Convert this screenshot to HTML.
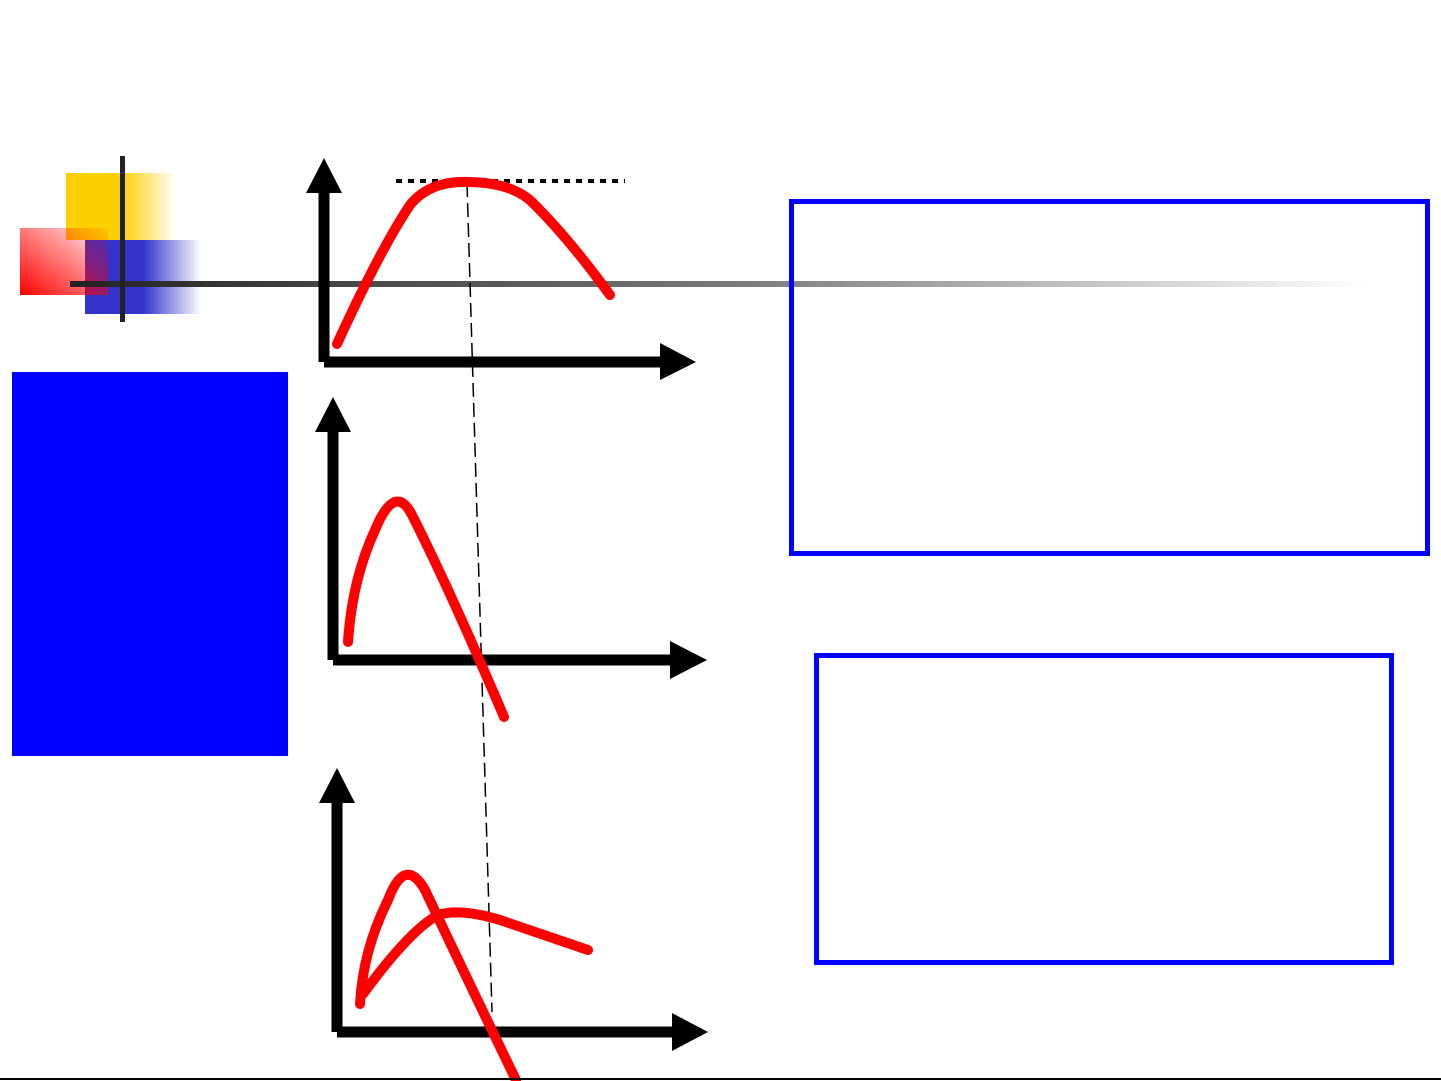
<!DOCTYPE html>
<html><head><meta charset="utf-8"><style>html,body{margin:0;padding:0;background:#fff}svg{display:block}</style></head>
<body>
<svg width="1441" height="1081" viewBox="0 0 1441 1081" xmlns="http://www.w3.org/2000/svg">
<defs>
<linearGradient id="gy" x1="0" x2="1"><stop offset="0" stop-color="#ffd000"/><stop offset="0.5" stop-color="#ffd000"/><stop offset="1" stop-color="#ffd000" stop-opacity="0"/></linearGradient>
<linearGradient id="gb" x1="0" x2="1"><stop offset="0" stop-color="#3333cc"/><stop offset="0.5" stop-color="#3333cc"/><stop offset="1" stop-color="#3333cc" stop-opacity="0"/></linearGradient>
<linearGradient id="gr" x1="0" y1="1" x2="1" y2="0"><stop offset="0" stop-color="#ff0000"/><stop offset="1" stop-color="#ff0000" stop-opacity="0.05"/></linearGradient>
<linearGradient id="gl" x1="0" x2="1"><stop offset="0" stop-color="#222"/><stop offset="0.5" stop-color="#777"/><stop offset="1" stop-color="#fff"/></linearGradient>
</defs>
<rect x="66" y="173" width="110" height="67" fill="url(#gy)"/>
<rect x="85" y="240" width="116" height="74" fill="url(#gb)"/>
<rect x="20" y="228" width="88" height="67" fill="url(#gr)"/>
<rect x="70" y="281" width="1300" height="6" fill="url(#gl)"/>
<rect x="120" y="156" width="5" height="166" fill="#222"/>
<rect x="12" y="372" width="276" height="384" fill="#0000ff"/>
<rect x="791.5" y="201.5" width="636" height="352" fill="none" stroke="#0000ff" stroke-width="5"/>
<rect x="816.5" y="655.5" width="575" height="307" fill="none" stroke="#0000ff" stroke-width="5"/>
<g fill="none" stroke="#000">
<path d="M324,362 V185 M324,362 H665" stroke-width="11"/>
<path d="M333,660 V425 M333,660 H675" stroke-width="11"/>
<path d="M337,1032 V795 M337,1032 H677" stroke-width="11"/>
<path d="M396,181 H625" stroke-width="4" stroke-dasharray="6,6"/>
<path d="M467,183 L492,1012" stroke-width="1.5" stroke-dasharray="14,6"/>
</g>
<g fill="#000">
<polygon points="324,158 306,193 342,193"/>
<polygon points="696,362 660,343 660,380"/>
<polygon points="333,397 315,432 351,432"/>
<polygon points="707,660 670,641 670,679"/>
<polygon points="337,768 319,803 355,803"/>
<polygon points="708,1032 672,1013 672,1051"/>
</g>
<g fill="none" stroke="#ff0000" stroke-width="10" stroke-linecap="round" stroke-linejoin="round">
<path d="M337,344 Q380,250 410,205 Q430,180 470,182 Q515,183 535,205 Q570,240 610,295"/>
<path d="M348,642 Q352,580 375,530 Q395,482 412,515 Q450,590 504,717"/>
<path d="M360,1004 Q363,950 388,900 Q405,855 425,890 Q470,985 516,1080"/>
<path d="M363,994 Q410,930 438,915 Q460,908 500,920 L588,950"/>
</g>
<rect x="0" y="1078" width="1441" height="2" fill="#000"/>
</svg>
</body></html>
